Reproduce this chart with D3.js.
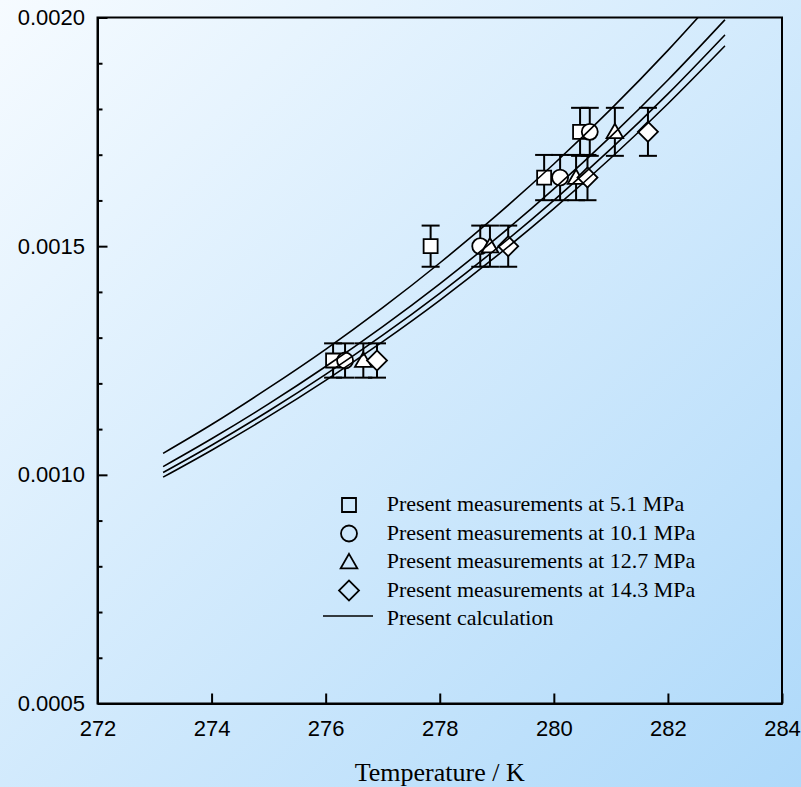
<!DOCTYPE html>
<html>
<head>
<meta charset="utf-8">
<script src="https://cdn.jsdelivr.net/npm/d3@7"></script>
<style>
  body { margin: 0; }
  .axis text { font-family: "Liberation Sans", Arial, sans-serif; font-size: 22px; fill: #000; }
  .axis path, .axis line { stroke: #000; stroke-width: 2; }
  .legend text { font-family: "Liberation Serif", "Times New Roman", serif; font-size: 22px; }
</style>
</head>
<body>
<div id="chart"></div>
<script>
// measured points (temperature K, value) for each pressure
const T_5_1 = [276.13, 277.84, 279.83, 280.46];
const V_5_1 = [0.00125, 0.0015, 0.00165, 0.00175];
const E_5_1 = [0.0000375, 0.000045, 0.0000495, 0.0000525];

const T_10_1 = [276.34, 278.71, 280.11, 280.63];
const V_10_1 = [0.00125, 0.0015, 0.00165, 0.00175];
const E_10_1 = [0.0000375, 0.000045, 0.0000495, 0.0000525];

const T_12_7 = [276.66, 278.88, 280.39, 281.07];
const V_12_7 = [0.00125, 0.0015, 0.00165, 0.00175];
const E_12_7 = [0.0000375, 0.000045, 0.0000495, 0.0000525];

const T_14_3 = [276.9, 279.2, 280.59, 281.65];
const V_14_3 = [0.00125, 0.0015, 0.00165, 0.00175];
const E_14_3 = [0.0000375, 0.000045, 0.0000495, 0.0000525];

// calculated curves
const calcT = [273.15, 274, 275, 276, 277, 278, 279, 280, 281, 282, 283];
const calc_5_1  = [0.001047, 0.001110, 0.001190, 0.0012745, 0.0013656, 0.0014632, 0.0015677, 0.0016796, 0.0017996, 0.0019282, 0.0020658];
const calc_10_1 = [0.001018, 0.0010789, 0.0011551, 0.0012368, 0.0013242, 0.0014178, 0.0015180, 0.0016253, 0.0017402, 0.0018632, 0.001995];
const calc_12_7 = [0.001005, 0.0010647, 0.0011395, 0.0012196, 0.0013053, 0.0013970, 0.0014951, 0.0016002, 0.0017126, 0.0018330, 0.001962];
const calc_14_3 = [0.000995, 0.0010539, 0.0011277, 0.0012067, 0.0012913, 0.0013817, 0.0014786, 0.0015821, 0.0016928, 0.0018115, 0.001938];

const xTicks = [272, 274, 276, 278, 280, 282, 284];
const yTicks = [0.0005, 0.0010, 0.0015, 0.0020];
const yMinor = [0.0006, 0.0007, 0.0008, 0.0009, 0.0011, 0.0012, 0.0013, 0.0014, 0.0016, 0.0017, 0.0018, 0.0019];

const legendLabels = [
  "Present measurements at 5.1 MPa",
  "Present measurements at 10.1 MPa",
  "Present measurements at 12.7 MPa",
  "Present measurements at 14.3 MPa",
  "Present calculation"
];

const width = 801;
const height = 787;
const margin = {top: 17.5, left: 97.5, right: 19, bottom: 83.5};

const svg = d3.select("#chart")
    .append("svg")
    .attr("width", width)
    .attr("height", height);

// background gradient
const grad = svg.append("defs").append("linearGradient")
    .attr("id", "bg")
    .attr("x1", "0").attr("y1", "0").attr("x2", "1").attr("y2", "1");
grad.append("stop").attr("offset", "0").attr("stop-color", "#f6fbff");
grad.append("stop").attr("offset", "1").attr("stop-color", "#aed9fa");
svg.select("defs").append("clipPath").attr("id", "plotclip")
  .append("rect")
    .attr("x", margin.left).attr("y", margin.top)
    .attr("width", width - margin.left - margin.right)
    .attr("height", height - margin.top - margin.bottom);

svg.append("rect")
    .attr("width", width).attr("height", height)
    .attr("fill", "url(#bg)");

const xScale = d3.scaleLinear()
    .domain([272, 284])
    .range([margin.left, width - margin.right]);

const yScale = d3.scaleLinear()
    .domain([0.0005, 0.0020])
    .range([height - margin.bottom, margin.top]);

// frame
svg.append("rect")
    .attr("x", xScale(272)).attr("y", yScale(0.002))
    .attr("width", xScale(284) - xScale(272))
    .attr("height", yScale(0.0005) - yScale(0.002))
    .attr("fill", "none").attr("stroke", "#000").attr("stroke-width", 2);

// axes, ticks point inward
svg.append("g")
    .attr("class", "axis")
    .attr("transform", `translate(0,${yScale(0.0005)})`)
    .call(d3.axisBottom(xScale).tickValues(xTicks).tickSizeInner(-10).tickSizeOuter(0).tickPadding(17).tickFormat(d3.format("d")));

svg.append("g")
    .attr("class", "axis")
    .attr("transform", `translate(${xScale(272)},0)`)
    .call(d3.axisLeft(yScale).tickValues(yTicks).tickSizeInner(-10).tickSizeOuter(0).tickPadding(12.5).tickFormat(d3.format(".4f")));

svg.append("g")
    .attr("class", "axis")
    .attr("transform", `translate(${xScale(272)},0)`)
    .call(d3.axisLeft(yScale).tickValues(yMinor).tickSizeInner(-5).tickSizeOuter(0).tickFormat(""));

// x axis title
svg.append("text")
    .attr("x", (xScale(272) + xScale(284)) / 2)
    .attr("y", 781)
    .attr("text-anchor", "middle")
    .style("font-family", "'Liberation Serif', 'Times New Roman', serif")
    .style("font-size", "26px")
    .text("Temperature / K");

// marker shapes
const shapes = {
  square: d3.symbol().type(d3.symbolSquare).size(196),
  circle: d3.symbol().type(d3.symbolCircle).size(201),
  triangle: d3.symbol().type(d3.symbolTriangle).size(120),
  diamond: d3.symbol().type(d3.symbolSquare).size(200)
};

const series = [
  {T: T_5_1, V: V_5_1, E: E_5_1, shape: "square"},
  {T: T_10_1, V: V_10_1, E: E_10_1, shape: "circle"},
  {T: T_12_7, V: V_12_7, E: E_12_7, shape: "triangle"},
  {T: T_14_3, V: V_14_3, E: E_14_3, shape: "diamond"}
];

function rot(shape) { return shape === "diamond" ? " rotate(45)" : ""; }

const capHalf = 9;

series.forEach(function(s) {
  const pts = s.T.map(function(t, i) { return {t: t, v: s.V[i], e: s.E[i]}; });

  const eb = svg.append("g")
      .attr("stroke", "#000")
      .attr("stroke-width", 2);
  eb.selectAll("line.stem").data(pts).enter().append("line")
      .attr("x1", function(d) { return xScale(d.t); })
      .attr("x2", function(d) { return xScale(d.t); })
      .attr("y1", function(d) { return yScale(d.v + d.e); })
      .attr("y2", function(d) { return yScale(d.v - d.e); });
  eb.selectAll("line.top").data(pts).enter().append("line")
      .attr("x1", function(d) { return xScale(d.t) - capHalf; })
      .attr("x2", function(d) { return xScale(d.t) + capHalf; })
      .attr("y1", function(d) { return yScale(d.v + d.e); })
      .attr("y2", function(d) { return yScale(d.v + d.e); });
  eb.selectAll("line.bot").data(pts).enter().append("line")
      .attr("x1", function(d) { return xScale(d.t) - capHalf; })
      .attr("x2", function(d) { return xScale(d.t) + capHalf; })
      .attr("y1", function(d) { return yScale(d.v - d.e); })
      .attr("y2", function(d) { return yScale(d.v - d.e); });
});

series.forEach(function(s) {
  const pts = s.T.map(function(t, i) { return {t: t, v: s.V[i]}; });
  svg.append("g").selectAll("path").data(pts).enter().append("path")
      .attr("d", shapes[s.shape])
      .attr("transform", function(d) {
        return `translate(${xScale(d.t)},${yScale(d.v) + (s.shape === "triangle" ? 1.5 : 0)})` + rot(s.shape);
      })
      .attr("fill", "#fff")
      .attr("stroke", "#000")
      .attr("stroke-width", 1.8);
});

// calculation curves on top
const line = d3.line()
    .x(function(d) { return xScale(d[0]); })
    .y(function(d) { return yScale(d[1]); })
    .curve(d3.curveMonotoneX);

[calc_5_1, calc_10_1, calc_12_7, calc_14_3].forEach(function(c) {
  svg.append("path")
      .datum(calcT.map(function(t, i) { return [t, c[i]]; }))
      .attr("clip-path", "url(#plotclip)")
      .attr("d", line)
      .attr("fill", "none")
      .attr("stroke", "#000")
      .attr("stroke-width", 1.6);
});

// legend
const legend = svg.append("g").attr("class", "legend");
const legX = 349, legTextX = 386.7, legY0 = 505, legStep = 28.5;
const legShapes = ["square", "circle", "triangle", "diamond"];

legShapes.forEach(function(sh, i) {
  legend.append("path")
      .attr("d", shapes[sh])
      .attr("transform", `translate(${legX},${legY0 + i * legStep + (sh === "triangle" ? 1.5 : 0)})` + rot(sh))
      .attr("fill", "none")
      .attr("stroke", "#000")
      .attr("stroke-width", 1.8);
});
legend.append("line")
    .attr("x1", 323).attr("x2", 373)
    .attr("y1", legY0 + 4 * legStep - 3).attr("y2", legY0 + 4 * legStep - 3)
    .attr("stroke", "#000").attr("stroke-width", 1.6);

legend.selectAll("text").data(legendLabels).enter().append("text")
    .attr("x", legTextX)
    .attr("y", function(d, i) { return legY0 + i * legStep + 6; })
    .text(function(d) { return d; });
</script>
</body>
</html>
